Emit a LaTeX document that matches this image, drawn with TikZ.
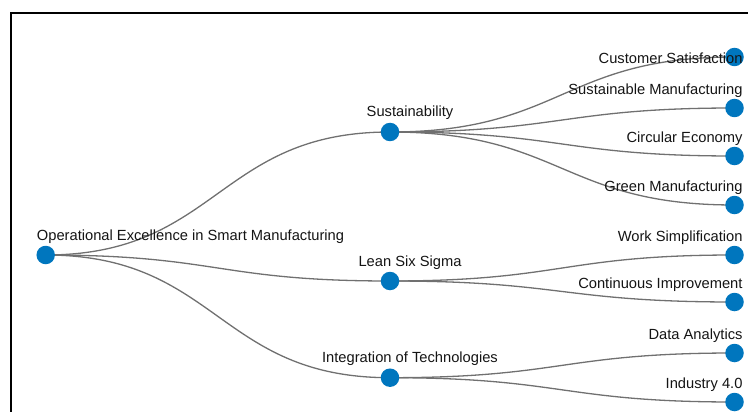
\documentclass[tikz,border=0pt]{standalone}
\usepackage{fontspec}
\setmainfont{Liberation Sans}
\usetikzlibrary{backgrounds}

\definecolor{dotblue}{RGB}{0,118,190}
\definecolor{linkgray}{RGB}{112,112,112}
\definecolor{labelgray}{RGB}{20,20,20}

\begin{document}
\begin{tikzpicture}[x=1pt,y=-1pt,
        dot/.style={circle,fill=dotblue,minimum size=18.5pt,inner sep=0pt},
        lbl/.style={inner sep=0pt,text=labelgray,font=\fontsize{14.7}{17}\selectfont},
        link/.style={draw=linkgray,line width=1.3pt}]
    \useasboundingbox (0,0) rectangle (748,412);
    % frame
    \draw[line width=2pt] (11,412) -- (11,13) -- (748,13);
    % dots
    \node[dot] (root) at (45.7,255) {};
    \node[dot] (sus) at (390,132) {};
    \node[dot] (lean) at (390,281) {};
    \node[dot] (tech) at (390,377.7) {};
    \foreach \n/\y in {cust/57,sman/108,circ/156,gman/205,work/255,cont/302,data/353,ind/402}
        \node[dot] (\n) at (734.5,\y) {};
    % links
    \begin{scope}[on background layer]
        \foreach \a/\b in {root/sus,root/lean,root/tech,
                           sus/cust,sus/sman,sus/circ,sus/gman,
                           lean/work,lean/cont,tech/data,tech/ind}
            \draw[link] (\a.center) .. controls +(172,0) and +(-172,0) .. (\b.center);
    \end{scope}
    % labels
    \node[lbl,anchor=base west] (root label) at (36.7,240.7) {Operational Excellence in Smart Manufacturing};
    \foreach \n/\t in {sus/Sustainability,lean/Lean Six Sigma,tech/Integration of Technologies}
        \node[lbl,anchor=base] (\n label) at ([xshift=20pt,yshift=15pt]\n) {\t};
    \node[lbl,anchor=base east] (cust label) at (742.7,64) {Customer Satisfaction};
    \foreach \n/\t in {sman/Sustainable Manufacturing,circ/Circular Economy,gman/Green Manufacturing,
                       work/Work Simplification,cont/Continuous Improvement,data/Data Analytics,ind/Industry 4.0}
        \node[lbl,anchor=base east] (\n label) at ([xshift=8.2pt,yshift=13.2pt]\n) {\t};
\end{tikzpicture}
\end{document}
